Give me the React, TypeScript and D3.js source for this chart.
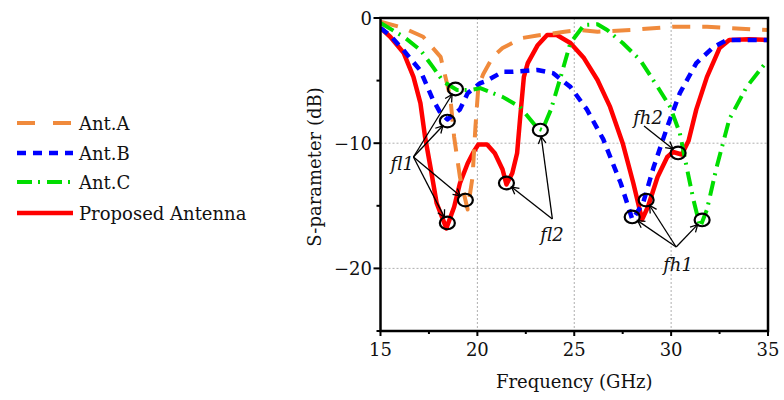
import React from "react";
import * as d3 from "d3";

// Frequency sweeps (GHz) and reflection coefficients (dB) per antenna
const freqA = [15, 16.2, 17.2, 18.1, 18.6, 18.8, 19.1, 19.5, 19.75, 19.9, 20.05, 20.3, 20.8, 21.3, 22.3, 23.1, 24.5, 25.3, 26.2, 27.9, 30.1, 31.85, 34.1, 35];
const s11A = [-0.3, -0.8, -1.5, -3.1, -6.3, -9.5, -12.7, -15.3, -12.7, -8.7, -5.5, -4.5, -3.1, -2.4, -1.6, -1.4, -1.1, -0.96, -1.1, -0.96, -0.7, -0.7, -0.9, -0.96];

const freqB = [15, 15.5, 16.2, 17.06, 17.7, 18.1, 18.45, 19.1, 19.5, 20.15, 20.5, 21.3, 21.85, 23.1, 23.9, 24.8, 25.65, 26.5, 27.4, 28.0, 28.55, 29.1, 29.8, 30.45, 31.3, 32.2, 32.9, 35];
const s11B = [-0.8, -1.4, -2.6, -4.2, -6.5, -7.6, -8.1, -7.3, -6.0, -5.2, -5.0, -4.3, -4.3, -4.15, -4.4, -5.5, -7.3, -9.7, -13.2, -16.1, -14.8, -11.9, -8.7, -6.0, -3.6, -2.3, -1.75, -1.75];

const freqC = [15, 16.2, 17.06, 17.7, 18.25, 18.95, 19.65, 20.15, 21.3, 22.2, 23.1, 23.35, 23.8, 24.3, 24.8, 25.5, 26.2, 26.7, 27.5, 28.4, 29.3, 29.95, 30.45, 30.8, 31.15, 31.5, 31.85, 32.35, 33.0, 33.9, 35];
const s11C = [-0.4, -1.5, -2.56, -3.9, -5.1, -5.75, -5.75, -5.6, -6.3, -7.1, -8.8, -8.95, -7.3, -4.7, -2.0, -0.56, -0.5, -0.96, -2.0, -3.35, -5.5, -7.1, -9.2, -11.9, -14.5, -16.7, -15.3, -11.9, -8.1, -5.5, -3.35];

const freqP = [15, 15.5, 16.2, 16.7, 17.06, 17.3, 17.6, 17.9, 18.4, 18.8, 19.1, 19.5, 19.8, 20.05, 20.5, 20.9, 21.3, 21.5, 21.8, 22.05, 22.2, 22.4, 22.6, 23.1, 23.6, 24.1, 24.8, 25.5, 26.2, 26.85, 27.5, 28.05, 28.5, 28.8, 29.3, 29.8, 30.1, 30.55, 30.9, 31.3, 31.85, 32.5, 33.0, 34, 35];
const s11P = [-0.8, -1.5, -2.8, -4.7, -6.8, -9.5, -12.1, -14.8, -16.8, -15.1, -13.2, -11.6, -10.7, -10.1, -10.1, -10.8, -12.1, -13.3, -12.4, -10.8, -8.1, -4.7, -3.6, -2.2, -1.36, -1.36, -2.0, -3.2, -4.95, -7.1, -10.0, -13.2, -16.1, -15.1, -12.7, -11.1, -10.7, -10.9, -9.8, -7.3, -4.7, -2.4, -1.75, -1.7, -1.75];

const seriesNames = ["Ant.A", "Ant.B", "Ant.C", "Proposed Antenna"];

const xTicks = [15, 20, 25, 30, 35];
const xMinorTicks = [17.5, 22.5, 27.5, 32.5];
const yTicks = [0, -10, -20];
const yMinorTicks = [-5, -15, -25];

// Resonance markers (frequency, dB) grouped by band label
const fl1Marks: [number, number][] = [[18.87, -5.67], [18.45, -8.23], [19.38, -14.54], [18.45, -16.37]];
const fl2Marks: [number, number][] = [[21.5, -13.18], [23.25, -8.95]];
const fh1Marks: [number, number][] = [[27.99, -15.89], [28.71, -14.54], [31.6, -16.13]];
const fh2Marks: [number, number][] = [[30.36, -10.78]];

// Band labels: text anchor and the point the arrows leave from
const bandLabels = [
  { name: "fl1", text: [15.52, -12.14], from: [16.7, -11.1], marks: fl1Marks },
  { name: "fl2", text: [23.25, -17.8], from: [23.87, -16.05], marks: fl2Marks },
  { name: "fh1", text: [29.59, -20.2], from: [30.26, -18.29], marks: fh1Marks },
  { name: "fh2", text: [28.04, -8.47], from: [28.6, -8.63], marks: fh2Marks },
];

const FONT = "'DejaVu Serif', serif";

const styles = [
  { color: "#F08A3C", width: 4, dash: "18,12", legendDash: "18,18" },
  { color: "#0000FF", width: 4.5, dash: "9,7", legendDash: "9,7" },
  { color: "#00DD00", width: 4, dash: "15,6,2,7", legendDash: "15,6,2,7" },
  { color: "#FF0000", width: 4.5, dash: undefined, legendDash: undefined },
];

export default function App() {
  const W = 784;
  const H = 400;
  const x = d3.scaleLinear().domain([15, 35]).range([380.5, 768]);
  const y = d3.scaleLinear().domain([-25, 0]).range([331, 18]);

  const line = d3
    .line<[number, number]>()
    .x((d) => x(d[0]))
    .y((d) => y(d[1]))
    .curve(d3.curveLinear);

  const zip = (f: number[], v: number[]) => f.map((fi, i) => [fi, v[i]] as [number, number]);
  const data = [zip(freqA, s11A), zip(freqB, s11B), zip(freqC, s11C), zip(freqP, s11P)];
  // Proposed antenna drawn first so the reference curves stay visible where they overlap
  const drawOrder = [3, 0, 1, 2];

  const [x0, x1] = x.range();
  const [y0, y1] = y.range();

  const legendY = [123, 153, 182, 213];

  return (
    <svg
      width={W}
      height={H}
      style={{ position: "absolute", left: 0, top: 0, background: "#fff" }}
      fontFamily={FONT}
    >
      <defs>
        <marker
          id="arrowHead"
          markerUnits="userSpaceOnUse"
          markerWidth={12}
          markerHeight={12}
          viewBox="-10 -6 12 12"
          refX={0}
          refY={0}
          orient="auto"
        >
          <path d="M-7,-3.8 L0,0 L-7,3.8" fill="none" stroke="#000" strokeWidth={1.3} />
        </marker>
        <clipPath id="plotClip">
          <rect x={x0} y={y1} width={x1 - x0} height={y0 - y1} />
        </clipPath>
      </defs>

      {/* grid */}
      {xTicks.slice(1, -1).map((t) => (
        <line key={"gx" + t} x1={x(t)} x2={x(t)} y1={y1} y2={y0} stroke="#9a9a9a" strokeWidth={0.8} strokeDasharray="2,2" />
      ))}
      {yTicks.slice(1).map((t) => (
        <line key={"gy" + t} x1={x0} x2={x1} y1={y(t)} y2={y(t)} stroke="#9a9a9a" strokeWidth={0.8} strokeDasharray="2,2" />
      ))}

      {/* curves */}
      <g clipPath="url(#plotClip)">
        {drawOrder.map((i) => (
          <path
            key={"s" + i}
            d={line(data[i]) || ""}
            fill="none"
            stroke={styles[i].color}
            strokeWidth={styles[i].width}
            strokeDasharray={styles[i].dash}
            strokeLinejoin="round"
          />
        ))}
      </g>

      {/* frame */}
      <rect x={x0} y={y1} width={x1 - x0} height={y0 - y1} fill="none" stroke="#000" strokeWidth={2.5} />

      {/* x ticks */}
      {xTicks.map((t) => (
        <g key={"xt" + t}>
          <line x1={x(t)} x2={x(t)} y1={y0} y2={y0 + 5} stroke="#000" strokeWidth={2} />
          <text x={x(t)} y={356} fontSize={18} textAnchor="middle" fill="#111">
            {t}
          </text>
        </g>
      ))}
      {xMinorTicks.map((t) => (
        <line key={"xm" + t} x1={x(t)} x2={x(t)} y1={y0} y2={y0 + 3} stroke="#000" strokeWidth={2} />
      ))}
      <text x={(x0 + x1) / 2} y={388} fontSize={18} textAnchor="middle" fill="#111">
        Frequency (GHz)
      </text>

      {/* y ticks */}
      {yTicks.map((t) => (
        <g key={"yt" + t}>
          <line x1={x0 - 7} x2={x0} y1={y(t)} y2={y(t)} stroke="#000" strokeWidth={2} />
          <text x={372} y={y(t) + 6.5} fontSize={18} textAnchor="end" fill="#111">
            {t === 0 ? "0" : "\u2212" + Math.abs(t)}
          </text>
        </g>
      ))}
      {yMinorTicks.map((t) => (
        <line key={"ym" + t} x1={x0 - 4} x2={x0} y1={y(t)} y2={y(t)} stroke="#000" strokeWidth={2} />
      ))}
      <text
        transform={`translate(321,167) rotate(-90)`}
        fontSize={18}
        textAnchor="middle"
        fill="#111"
      >
        S-parameter (dB)
      </text>

      {/* resonance annotations */}
      {bandLabels.map((b) => {
        const ox = x(b.from[0]);
        const oy = y(b.from[1]);
        return (
          <g key={b.name}>
            {b.marks.map((m, k) => {
              const cx = x(m[0]);
              const cy = y(m[1]);
              const dx = cx - ox;
              const dy = cy - oy;
              const len = Math.hypot(dx, dy);
              const tx = cx - (dx / len) * 6.5;
              const ty = cy - (dy / len) * 6.5;
              return (
                <g key={k}>
                  <ellipse cx={cx} cy={cy} rx={7.5} ry={6.3} fill="none" stroke="#000" strokeWidth={2.2} />
                  <line x1={ox} y1={oy} x2={tx} y2={ty} stroke="#000" strokeWidth={1.3} markerEnd="url(#arrowHead)" />
                </g>
              );
            })}
            <text x={x(b.text[0])} y={y(b.text[1])} fontSize={18} fontStyle="italic" fill="#111">
              {b.name}
            </text>
          </g>
        );
      })}

      {/* legend */}
      {seriesNames.map((name, i) => (
        <g key={name}>
          <line
            x1={17}
            x2={73}
            y1={legendY[i]}
            y2={legendY[i]}
            stroke={styles[i].color}
            strokeWidth={styles[i].width}
            strokeDasharray={styles[i].legendDash}
          />
          <text x={79} y={legendY[i] + 7} fontSize={18} fill="#111">
            {name}
          </text>
        </g>
      ))}
    </svg>
  );
}
